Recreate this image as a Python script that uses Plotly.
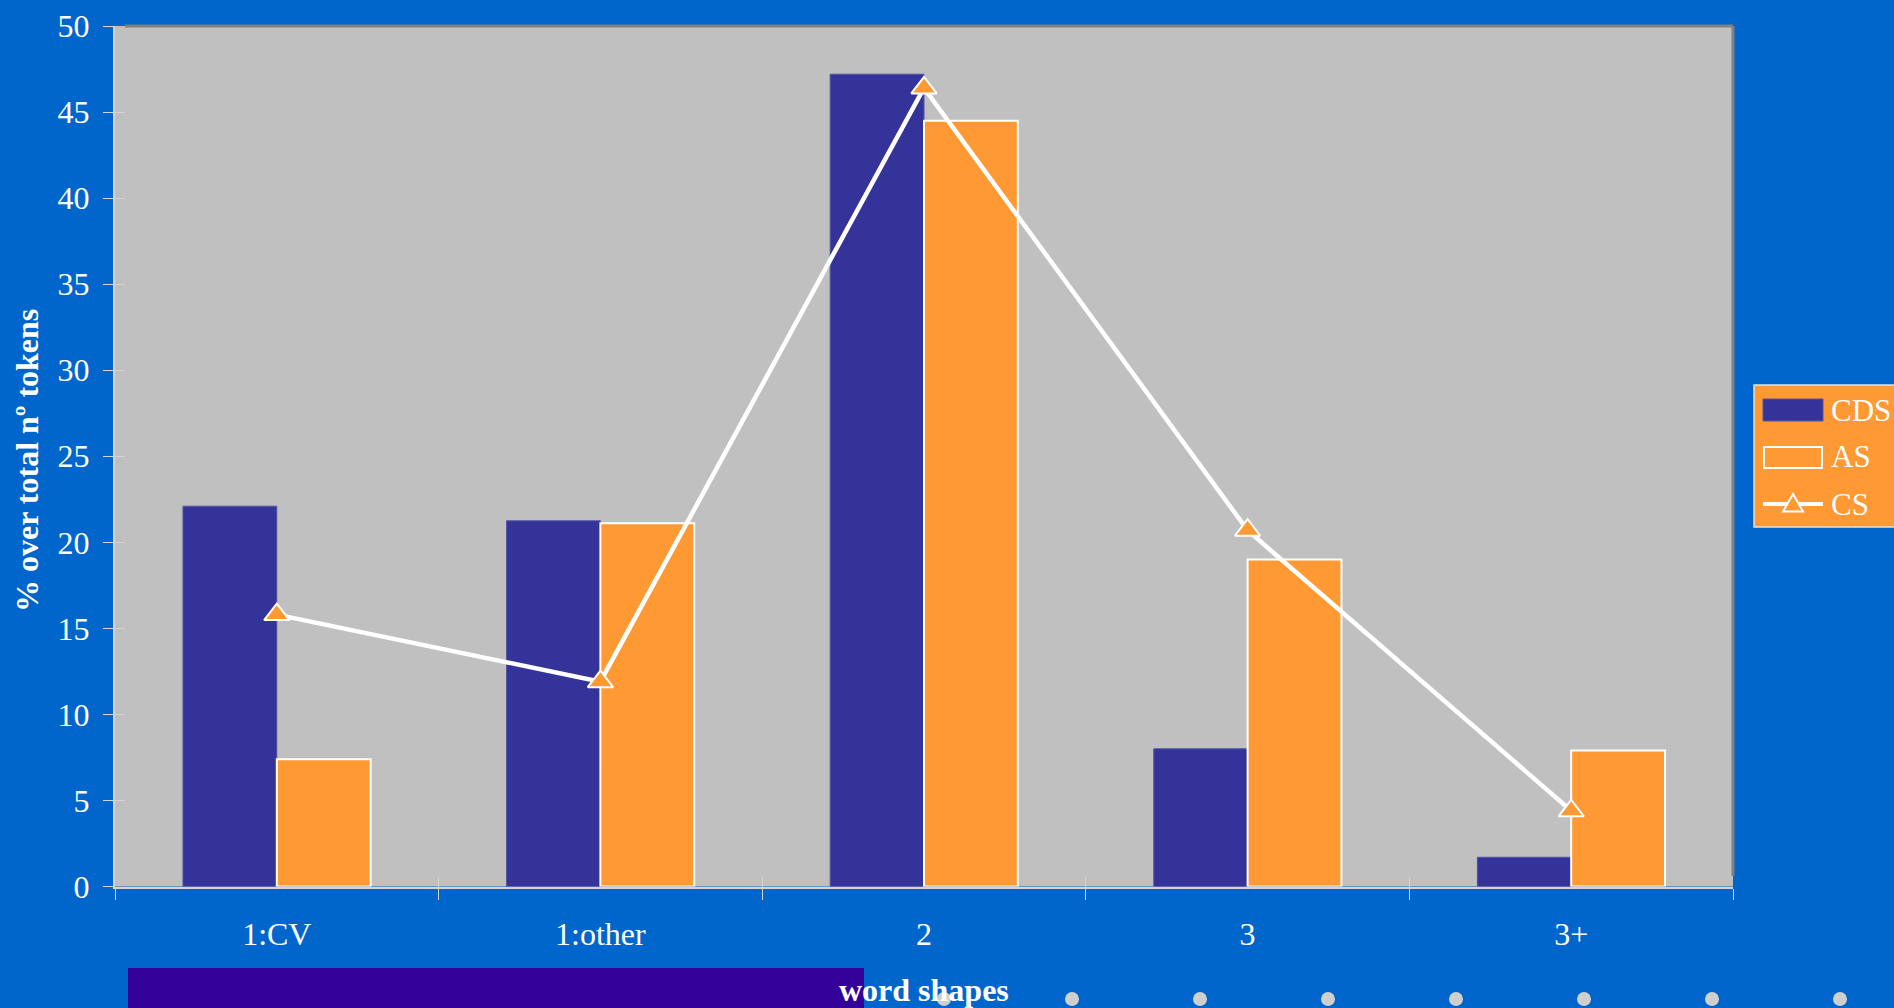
import plotly.graph_objects as go

# Word-shape distribution (% over total number of tokens)
categories = ["1:CV", "1:other", "2", "3", "3+"]
cds_values = [22.1, 21.25, 47.2, 8.0, 1.7]
as_values = [7.4, 21.1, 44.5, 19.0, 7.9]
cs_values = [15.8, 11.9, 46.4, 20.7, 4.4]
y_tick_values = [0, 5, 10, 15, 20, 25, 30, 35, 40, 45, 50]
series_names = ["CDS", "AS", "CS"]

W, H = 1894, 1008
BG = "#0066cc"
PLOT_BG = "#c0c0c0"
FONT = "Liberation Serif"
AXIS_LINE = "#d4d4d4"
CDS_COLOR = "#333399"
AS_COLOR = "#ff9933"


def px(x):
    return x / W


def py(y):
    return 1 - y / H


fig = go.Figure()

fig.add_trace(go.Bar(
    name=series_names[0], x=categories, y=cds_values,
    marker=dict(color=CDS_COLOR, line=dict(color="#5555a6", width=1)),
))
fig.add_trace(go.Bar(
    name=series_names[1], x=categories, y=as_values,
    marker=dict(color=AS_COLOR, line=dict(color="white", width=2)),
))
fig.add_trace(go.Scatter(
    name=series_names[2], x=categories, y=cs_values, mode="lines+markers",
    line=dict(color="white", width=4.5),
    marker=dict(symbol="triangle-up", size=22, color=AS_COLOR,
                line=dict(color="white", width=2)),
))
# empty trace that carries the overlay axes used for the inward tick marks
fig.add_trace(go.Scatter(x=[], y=[], xaxis="x2", yaxis="y2",
                         showlegend=False, hoverinfo="skip"))

x_dom = [px(115), px(1733)]
y_dom = [py(886.5), py(26)]

fig.update_layout(
    width=W, height=H,
    margin=dict(l=0, r=0, t=0, b=0, pad=0, autoexpand=False),
    paper_bgcolor=BG,
    plot_bgcolor=PLOT_BG,
    font=dict(family=FONT, color="white", size=32),
    barmode="group",
    bargap=0.42,
    bargroupgap=0,
    showlegend=False,
    xaxis=dict(
        domain=x_dom, type="category", categoryarray=categories,
        range=[-0.5, 4.5], automargin=False,
        showline=True, linecolor=AXIS_LINE, linewidth=2,
        ticks="outside", tickson="boundaries", ticklen=11,
        tickcolor=AXIS_LINE, tickwidth=1,
        showgrid=False, zeroline=False,
        tickfont=dict(family=FONT, size=32, color="white"),
        ticklabelstandoff=18,
    ),
    yaxis=dict(
        domain=y_dom, range=[0, 50], automargin=False,
        tickmode="array", tickvals=y_tick_values,
        ticktext=[str(v) for v in y_tick_values],
        showline=True, linecolor=AXIS_LINE, linewidth=2,
        ticks="outside", ticklen=10, tickcolor=AXIS_LINE, tickwidth=1,
        showgrid=False, zeroline=False,
        tickfont=dict(family=FONT, size=32, color="white"),
        ticklabelstandoff=7,
    ),
    xaxis2=dict(
        domain=x_dom, overlaying="x", anchor="y2", range=[-0.5, 4.5],
        tick0=-0.5, dtick=1, ticks="inside", ticklen=10,
        tickcolor=AXIS_LINE, tickwidth=1, showticklabels=False,
        showgrid=False, zeroline=False, showline=False, automargin=False,
    ),
    yaxis2=dict(
        domain=y_dom, overlaying="y", anchor="x2", range=[0, 50],
        tickvals=y_tick_values, ticks="inside", ticklen=10,
        tickcolor=AXIS_LINE, tickwidth=1, showticklabels=False,
        showgrid=False, zeroline=False, showline=False, automargin=False,
    ),
)

shapes = [
    # dark frame along the top and right of the plot area
    dict(type="line", xref="paper", yref="paper", x0=x_dom[0] + px(10), x1=x_dom[1],
         y0=y_dom[1], y1=y_dom[1], line=dict(color="#7f7f7f", width=3)),
    dict(type="line", xref="paper", yref="paper", x0=x_dom[1], x1=x_dom[1],
         y0=py(876), y1=y_dom[1], line=dict(color="#7f7f7f", width=3)),
    # purple band at the bottom of the slide
    dict(type="rect", xref="paper", yref="paper", x0=px(128), x1=px(864),
         y0=py(1010), y1=py(968), fillcolor="#330099", line=dict(width=0), layer="below"),
]
for cx in [944, 1072, 1200, 1328, 1456, 1584, 1712, 1840]:
    shapes.append(dict(type="circle", xref="paper", yref="paper",
                       x0=px(cx - 7), x1=px(cx + 7), y0=py(999 + 7), y1=py(999 - 7),
                       fillcolor="#cfcfcf", line=dict(width=0), layer="below"))

# legend box with its three keys
shapes += [
    dict(type="rect", xref="paper", yref="paper", x0=px(1754), x1=px(1900),
         y0=py(527), y1=py(385), fillcolor=AS_COLOR,
         line=dict(color="#e2e2e2", width=1.5)),
    dict(type="rect", xref="paper", yref="paper", x0=px(1763), x1=px(1823),
         y0=py(421), y1=py(399), fillcolor=CDS_COLOR,
         line=dict(color="#5555a6", width=1)),
    dict(type="rect", xref="paper", yref="paper", x0=px(1764), x1=px(1822),
         y0=py(468), y1=py(447), fillcolor=AS_COLOR,
         line=dict(color="white", width=2)),
    dict(type="line", xref="paper", yref="paper", x0=px(1763), x1=px(1823),
         y0=py(504), y1=py(504), line=dict(color="white", width=4)),
    dict(type="path", xref="paper", yref="paper",
         path=f"M {px(1783)},{py(511.5)} L {px(1803)},{py(511.5)} L {px(1793)},{py(494)} Z",
         fillcolor=AS_COLOR, line=dict(color="white", width=2)),
]
fig.update_layout(shapes=shapes)

for name, yc in zip(series_names, [410, 457, 504]):
    fig.add_annotation(
        text=name, xref="paper", yref="paper", x=px(1829), y=py(yc),
        showarrow=False, xanchor="left", yanchor="middle",
        font=dict(family=FONT, size=31, color="white"),
    )

fig.add_annotation(
    text="<b>% over total nº tokens</b>", xref="paper", yref="paper",
    x=px(27), y=py(461), textangle=-90, showarrow=False,
    font=dict(family=FONT, size=32, color="white"),
    xanchor="center", yanchor="middle",
)
fig.add_annotation(
    text="<b>word shapes</b>", xref="paper", yref="paper",
    x=px(924), y=py(990), showarrow=False,
    font=dict(family=FONT, size=32, color="white"),
    xanchor="center", yanchor="middle",
)

fig.write_html("out.html")
